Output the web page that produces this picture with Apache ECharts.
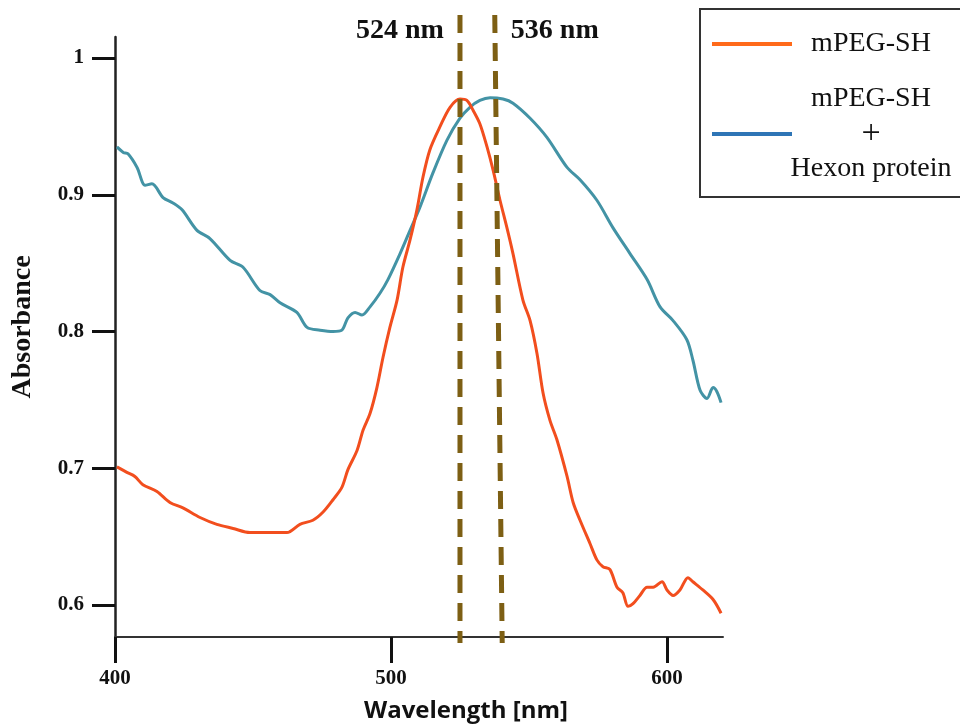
<!DOCTYPE html>
<html>
<head>
<meta charset="utf-8">
<script src="https://cdn.jsdelivr.net/npm/echarts@6/dist/echarts.min.js"></script>
<style>
    html, body { margin: 0; padding: 0; background: #fff; }
    #chart { width: 960px; height: 726px; }
</style>
</head>
<body>
<div id="chart"></div>
<script>
// series
var waveBlue = [400.7, 403, 404.7, 408, 410.9, 413.4, 417.4, 421, 424.3, 429.7, 434.4, 441.7, 446.4, 452.5, 456.2,
    459.8, 465.9, 469.6, 474.3, 479, 482.2, 484.4, 487, 489.5, 492.4, 496, 498.9, 503.3, 506.9, 510.5, 515.2,
    520.3, 525, 528.6, 532.2, 535.9, 540.6, 544.2, 550.4, 556.5, 563.8, 568.5, 574.6, 580.4, 586.6, 592.8,
    597.5, 602.2, 607.2, 609.4, 612, 614.5, 616.7, 618.1, 619.6];
var absBlue = [0.935, 0.931, 0.930, 0.920, 0.907, 0.908, 0.898, 0.894, 0.889, 0.874, 0.868, 0.852, 0.847, 0.830, 0.827,
    0.821, 0.814, 0.803, 0.801, 0.800, 0.801, 0.810, 0.814, 0.812, 0.818, 0.828, 0.838, 0.857, 0.874, 0.891, 0.916,
    0.940, 0.956, 0.964, 0.969, 0.971, 0.970, 0.967, 0.956, 0.942, 0.920, 0.911, 0.896, 0.876, 0.857, 0.838,
    0.818, 0.808, 0.794, 0.779, 0.757, 0.751, 0.759, 0.756, 0.748];

var waveOrange = [400.7, 404.3, 407.2, 410.1, 415.2, 419.9, 424.6, 430.8, 436.9, 442.8, 448.9, 453.6, 458.7, 462.3,
    467, 471.7, 475.4, 479, 482.2, 484.4, 487.7, 489.9, 492.4, 494.9, 497.1, 499.6, 502.2, 504.3, 506.9, 509.4,
    511.6, 514.1, 517.8, 521.4, 525, 527.5, 529.7, 532.2, 534.8, 537, 539.5, 542, 544.2, 547.8, 550.4, 552.9,
    555.1, 557.6, 560.1, 563.8, 566, 568.5, 572.1, 574.6, 576.8, 579.3, 581.9, 584, 585.9, 587.7, 590.2, 592.8,
    595, 598.2, 600, 602.2, 604.7, 607.6, 609.4, 613, 616.7, 619.6];
var absOrange = [0.701, 0.697, 0.694, 0.688, 0.683, 0.675, 0.671, 0.664, 0.659, 0.656, 0.653, 0.653, 0.653, 0.653,
    0.659, 0.662, 0.668, 0.677, 0.686, 0.699, 0.713, 0.728, 0.740, 0.759, 0.781, 0.803, 0.823, 0.847, 0.867, 0.889,
    0.913, 0.933, 0.950, 0.964, 0.970, 0.969, 0.962, 0.952, 0.935, 0.918, 0.896, 0.876, 0.857, 0.823, 0.808, 0.784,
    0.755, 0.735, 0.721, 0.694, 0.675, 0.662, 0.645, 0.633, 0.628, 0.626, 0.613, 0.609, 0.599, 0.601, 0.607, 0.613,
    0.613, 0.617, 0.611, 0.607, 0.611, 0.620, 0.617, 0.611, 0.604, 0.594];

var xTicks = [400, 500, 600];
var yTicks = [0.6, 0.7, 0.8, 0.9, 1];

// peak markers (top / bottom of each dashed line)
var peak1 = [[525, 1], [525, 0]];
var peak2 = [[537.6, 1], [540.3, 0]];
var peakLabels = ['524 nm', '536 nm'];

var serif = '"Liberation Serif", "Times New Roman", serif';

function pairs(xs, ys) {
    return xs.map(function (x, i) { return [x, ys[i]]; });
}

function peakData(pts, label, side) {
    return [
        {
            value: pts[0],
            label: {
                show: true,
                formatter: label,
                position: side,
                distance: 16,
                offset: [0, 16],
                color: '#111',
                fontFamily: serif,
                fontWeight: 'bold',
                fontSize: 28
            }
        },
        pts[1]
    ];
}

var myChart = echarts.init(document.getElementById('chart'));

var option = {
    backgroundColor: '#fff',
    animation: false,
    grid: [
        { left: 115, right: 237, top: 37, bottom: 89, containLabel: false, outerBoundsMode: 'none' },
        // overlay grid for the dashed peak lines, runs a bit past the axes
        { left: 115, right: 237, top: 15, bottom: 83, containLabel: false, outerBoundsMode: 'none' }
    ],
    xAxis: [
        {
            gridIndex: 0,
            type: 'value',
            min: 400,
            max: 620.3,
            name: 'Wavelength [nm]',
            nameLocation: 'middle',
            nameGap: 62,
            nameTextStyle: {
                fontFamily: '"Open Sans", "Liberation Sans", sans-serif',
                fontWeight: 'bold',
                fontSize: 24,
                color: '#111',
                padding: [0, 0, 0, 94]
            },
            splitLine: { show: false },
            axisLine: { lineStyle: { color: '#333', width: 2 } },
            axisTick: {
                customValues: xTicks,
                length: 26,
                lineStyle: { color: '#111', width: 3 }
            },
            axisLabel: {
                customValues: xTicks,
                margin: 31,
                fontFamily: serif,
                fontWeight: 'bold',
                fontSize: 21,
                color: '#111'
            }
        },
        {
            gridIndex: 1,
            type: 'value',
            min: 400,
            max: 620.3,
            show: false
        }
    ],
    yAxis: [
        {
            gridIndex: 0,
            type: 'value',
            min: 0.5766,
            max: 1.0154,
            name: 'Absorbance',
            nameLocation: 'middle',
            nameGap: 78,
            nameRotate: 90,
            nameTextStyle: {
                fontFamily: serif,
                fontWeight: 'bold',
                fontSize: 28,
                color: '#111',
                padding: [0, 0, 0, 20]
            },
            splitLine: { show: false },
            axisLine: { show: true, lineStyle: { color: '#222', width: 2.5 } },
            axisTick: {
                customValues: yTicks,
                length: 23,
                lineStyle: { color: '#111', width: 3 }
            },
            axisLabel: {
                customValues: yTicks,
                margin: 31,
                fontFamily: serif,
                fontWeight: 'bold',
                fontSize: 21,
                color: '#111',
                formatter: function (v) { return v === 1 ? '1' : v.toFixed(1); }
            }
        },
        {
            gridIndex: 1,
            type: 'value',
            min: 0,
            max: 1,
            show: false
        }
    ],
    legend: {
        orient: 'vertical',
        left: 700,
        top: 9,
        padding: [21, 20, 14, 12],
        itemGap: 27,
        itemWidth: 80,
        itemHeight: 4,
        icon: 'rect',
        backgroundColor: '#fff',
        borderColor: '#333',
        borderWidth: 2,
        borderRadius: 0,
        data: [
            { name: 'mPEG-SH', itemStyle: { color: '#FF6A1A' } },
            { name: 'mPEG-SH + Hexon protein', itemStyle: { color: '#2E75B6' } }
        ],
        formatter: function (name) {
            if (name === 'mPEG-SH') return '{c|mPEG-SH}';
            return '{c|mPEG-SH}\n{p|+}\n{c|Hexon protein}';
        },
        textStyle: {
            color: '#111',
            fontFamily: serif,
            fontSize: 28,
            rich: {
                c: { width: 148, align: 'center', lineHeight: 35, fontFamily: serif, fontSize: 28, color: '#111' },
                p: { width: 148, align: 'center', lineHeight: 35, fontFamily: serif, fontSize: 34, color: '#111' }
            }
        }
    },
    series: [
        {
            name: 'mPEG-SH',
            type: 'line',
            xAxisIndex: 0,
            yAxisIndex: 0,
            data: pairs(waveOrange, absOrange),
            showSymbol: false,
            smooth: 0.3,
            lineStyle: { color: '#F24E1E', width: 3 },
            itemStyle: { color: '#F24E1E' },
            z: 3
        },
        {
            name: 'mPEG-SH + Hexon protein',
            type: 'line',
            xAxisIndex: 0,
            yAxisIndex: 0,
            data: pairs(waveBlue, absBlue),
            showSymbol: false,
            smooth: 0.3,
            lineStyle: { color: '#4393A5', width: 3 },
            itemStyle: { color: '#4393A5' },
            z: 2
        },
        {
            name: 'peak1',
            type: 'line',
            xAxisIndex: 1,
            yAxisIndex: 1,
            data: peakData(peak1, peakLabels[0], 'left'),
            symbol: 'circle',
            symbolSize: 0.1,
            itemStyle: { color: 'rgba(0,0,0,0)' },
            lineStyle: { color: '#7D5F14', width: 5, type: [18, 10] },
            z: 4
        },
        {
            name: 'peak2',
            type: 'line',
            xAxisIndex: 1,
            yAxisIndex: 1,
            data: peakData(peak2, peakLabels[1], 'right'),
            symbol: 'circle',
            symbolSize: 0.1,
            itemStyle: { color: 'rgba(0,0,0,0)' },
            lineStyle: { color: '#7D5F14', width: 5, type: [18, 10] },
            z: 4
        }
    ]
};

myChart.setOption(option);
</script>
</body>
</html>
